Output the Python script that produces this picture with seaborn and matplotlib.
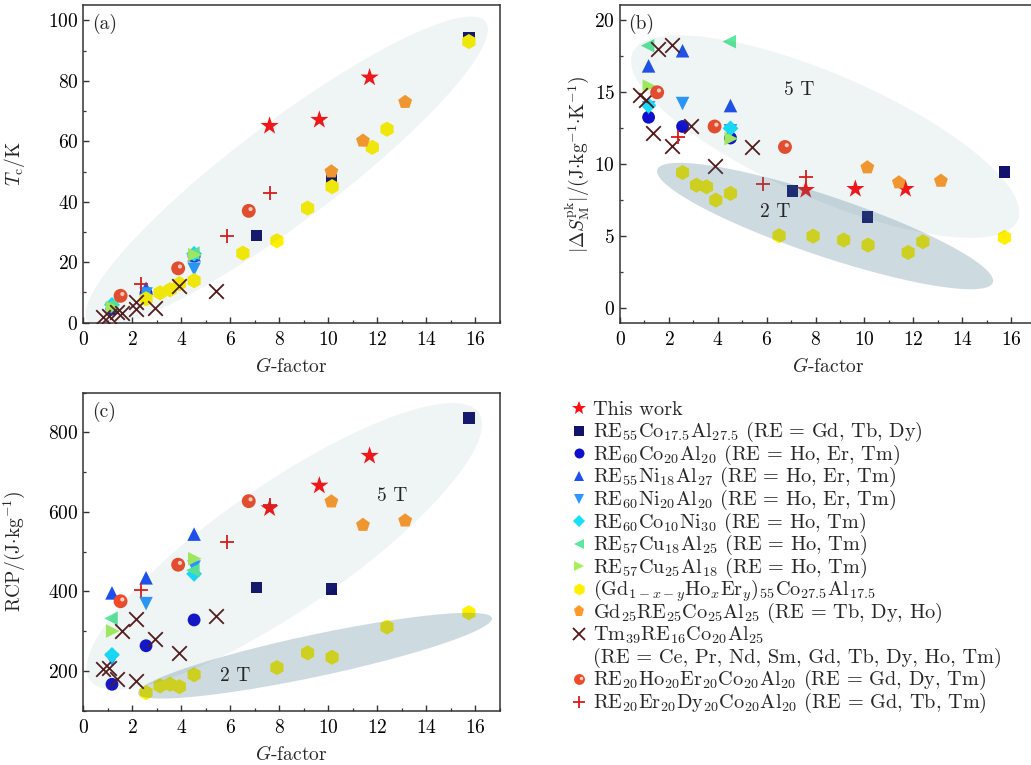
import numpy as np
import matplotlib
matplotlib.use("Agg")
import matplotlib.pyplot as plt
import seaborn as sns
from matplotlib.ticker import MultipleLocator
from matplotlib.transforms import ScaledTranslation

# --- DATA ---
# G-factor plus Tc (K), |dS_M^pk| (J/kg/K) and RCP (J/kg) for every alloy family
star_g = [7.60, 9.63, 11.68]
star_tc = [65.1, 67.1, 81.1]
star_ds = [8.20, 8.27, 8.27]
star_rcp = [609, 666, 741]

square_g = [7.06, 10.12, 15.73]
square_tc = [28.9, 47.2, 94.2]
square_ds = [8.12, 6.34, 9.46]
square_rcp = [410, 406, 836]

circle_g = [1.17, 2.56, 4.52]
circle_tc = [4.5, 9.8, 22.0]
circle_ds = [13.24, 12.60, 11.80]
circle_rcp = [166, 263, 328]

tri_up_g = [1.17, 2.56, 4.52]
tri_up_tc = [5.5, 11.4, 22.5]
tri_up_ds = [16.80, 17.85, 14.05]
tri_up_rcp = [396, 434, 544]

tri_down_g = [1.17, 2.56, 4.52]
tri_down_tc = [4.5, 9.5, 17.7]
tri_down_ds = [13.90, 14.19, 12.30]
tri_down_rcp = [228, 369, 461]

diamond_g = [1.17, 4.52]
diamond_tc = [5.9, 22.8]
diamond_ds = [14.06, 12.47]
diamond_rcp = [240, 444]

tri_left_g = [1.13, 4.47]
tri_left_tc = [6.0, 23.0]
tri_left_ds = [18.20, 18.48]
tri_left_rcp = [332, 453]

tri_right_g = [1.20, 4.55]
tri_right_tc = [5.0, 22.5]
tri_right_ds = [15.40, 11.76]
tri_right_rcp = [300, 482]

hex_g = [2.56, 3.13, 3.54, 3.92, 4.52, 6.51, 7.90, 9.15, 10.15, 11.79, 12.39, 15.73]
hex_tc = [7.9, 9.9, 10.9, 12.9, 13.9, 23.0, 27.1, 37.9, 45.0, 58.0, 64.0, 93.0]
hex_ds = [9.41, 8.53, 8.42, 7.50, 7.96, 5.03, 5.00, 4.73, 4.38, 3.87, 4.61, 4.91]
hex_rcp = [145, 162, 166, 160, 190, np.nan, 208, 245, 234, np.nan, 310, 346]

penta_g = [10.12, 11.41, 13.13]
penta_tc = [50.0, 60.2, 73.0]
penta_ds = [9.76, 8.72, 8.83]
penta_rcp = [626, 567, 578]

cross_g = [0.82, 1.05, 1.36, 1.57, 2.13, 2.13, 2.91, 3.90, 5.41]
cross_tc = [1.8, 2.3, 3.6, 3.2, 6.8, 4.5, 4.8, 12.3, 10.4]
cross_ds = [14.76, 14.46, 12.15, 18.00, 18.22, 11.23, 12.60, 9.87, 11.18]
cross_rcp = [204, 208, 179, 299, 331, 175, 280, 245, 337]

ball_g = [1.52, 3.87, 6.75]
ball_tc = [8.9, 18.0, 37.0]
ball_ds = [14.97, 12.60, 11.18]
ball_rcp = [375, 467, 627]

plus_g = [2.36, 5.86, 7.63]
plus_tc = [12.9, 28.8, 43.0]
plus_ds = [11.88, 8.58, 9.11]
plus_rcp = [404, 524, 617]

LABELS = [
    "This work",
    r"RE$_{55}$Co$_{17.5}$Al$_{27.5}$ (RE = Gd, Tb, Dy)",
    r"RE$_{60}$Co$_{20}$Al$_{20}$ (RE = Ho, Er, Tm)",
    r"RE$_{55}$Ni$_{18}$Al$_{27}$ (RE = Ho, Er, Tm)",
    r"RE$_{60}$Ni$_{20}$Al$_{20}$ (RE = Ho, Er, Tm)",
    r"RE$_{60}$Co$_{10}$Ni$_{30}$ (RE = Ho, Tm)",
    r"RE$_{57}$Cu$_{18}$Al$_{25}$ (RE = Ho, Tm)",
    r"RE$_{57}$Cu$_{25}$Al$_{18}$ (RE = Ho, Tm)",
    r"(Gd$_{1-x-y}$Ho$_x$Er$_y$)$_{55}$Co$_{27.5}$Al$_{17.5}$",
    r"Gd$_{25}$RE$_{25}$Co$_{25}$Al$_{25}$ (RE = Tb, Dy, Ho)",
    ["Tm$_{39}$RE$_{16}$Co$_{20}$Al$_{25}$", "(RE = Ce, Pr, Nd, Sm, Gd, Tb, Dy, Ho, Tm)"],
    r"RE$_{20}$Ho$_{20}$Er$_{20}$Co$_{20}$Al$_{20}$ (RE = Gd, Dy, Tm)",
    r"RE$_{20}$Er$_{20}$Dy$_{20}$Co$_{20}$Al$_{20}$ (RE = Gd, Tb, Tm)",
]

# --- STYLE ---
SERIES = [
    dict(g=star_g, tc=star_tc, ds=star_ds, rcp=star_rcp, marker="*", color="#ff1010", s=190),
    dict(g=square_g, tc=square_tc, ds=square_ds, rcp=square_rcp, marker="s", color="#13136b", s=70),
    dict(g=circle_g, tc=circle_tc, ds=circle_ds, rcp=circle_rcp, marker="o", color="#1010cc", s=85),
    dict(g=tri_up_g, tc=tri_up_tc, ds=tri_up_ds, rcp=tri_up_rcp, marker="^", color="#1d4ff0", s=95),
    dict(g=tri_down_g, tc=tri_down_tc, ds=tri_down_ds, rcp=tri_down_rcp, marker="v", color="#2a98ff", s=95),
    dict(g=diamond_g, tc=diamond_tc, ds=diamond_ds, rcp=diamond_rcp, marker="D", color="#16e0ff", s=65),
    dict(g=tri_left_g, tc=tri_left_tc, ds=tri_left_ds, rcp=tri_left_rcp, marker="<", color="#5ce89a", s=95),
    dict(g=tri_right_g, tc=tri_right_tc, ds=tri_right_ds, rcp=tri_right_rcp, marker=">", color="#a6f05a", s=95),
    dict(g=hex_g, tc=hex_tc, ds=hex_ds, rcp=hex_rcp, marker="h", color="#fff000", s=120),
    dict(g=penta_g, tc=penta_tc, ds=penta_ds, rcp=penta_rcp, marker="p", color="#ff9a2a", s=110),
    dict(g=cross_g, tc=cross_tc, ds=cross_ds, rcp=cross_rcp, marker="x", color="#541818", s=110),
    dict(g=ball_g, tc=ball_tc, ds=ball_ds, rcp=ball_rcp, marker="o", color="#f24a28", s=100),
    dict(g=plus_g, tc=plus_tc, ds=plus_ds, rcp=plus_rcp, marker="+", color="#e01818", s=110),
]

ELL_COLOR = "#3b7387"
BALL_SHINE = "#ffd2c4"

sns.set_style("ticks")
plt.rcParams.update({
    "font.family": "serif",
    "font.serif": ["cmr10", "DejaVu Serif"],
    "mathtext.fontset": "cm",
    "axes.formatter.use_mathtext": True,
    "axes.unicode_minus": False,
    "font.size": 14,
    "axes.edgecolor": "#333333",
    "axes.linewidth": 1.1,
    "xtick.direction": "in",
    "ytick.direction": "in",
    "xtick.major.size": 4,
    "ytick.major.size": 4,
    "xtick.minor.size": 2.5,
    "ytick.minor.size": 2.5,
    "xtick.major.width": 1.0,
    "ytick.major.width": 1.0,
    "xtick.minor.width": 0.9,
    "ytick.minor.width": 0.9,
    "xtick.color": "#333333",
    "ytick.color": "#333333",
    "xtick.labelcolor": "black",
    "ytick.labelcolor": "black",
    "xtick.labelsize": 14,
    "ytick.labelsize": 14,
    "xtick.major.pad": 6,
    "ytick.major.pad": 3.5,
})

W, H = 1031, 765


def add_ellipse(ax, cx, cy, a_px, b_px, angle, alpha):
    # ellipse given in screen pixels (centre in data units), drawn over the points
    bbox = ax.get_window_extent()
    x0, x1 = ax.get_xlim()
    y0, y1 = ax.get_ylim()
    sx = bbox.width / (x1 - x0)
    sy = bbox.height / (y1 - y0)
    t = np.linspace(0, 2 * np.pi, 300)
    u = a_px * np.cos(t)
    v = b_px * np.sin(t)
    th = np.deg2rad(angle)
    px = u * np.cos(th) - v * np.sin(th)
    py = u * np.sin(th) + v * np.cos(th)
    ax.fill(cx + px / sx, cy + py / sy, color=ELL_COLOR, alpha=alpha, lw=0, zorder=5)


def draw_points(ax, key):
    fig = ax.figure
    for s in SERIES:
        kw = dict(marker=s["marker"], color=s["color"], s=s["s"], ax=ax, zorder=3, legend=False)
        if s["marker"] in ("x", "+"):
            kw["linewidth"] = 1.3
        else:
            kw["edgecolor"] = "none"
        sns.scatterplot(x=s["g"], y=s[key], **kw)
    # little highlight on the "ball" markers
    ball = SERIES[11]
    shift = ScaledTranslation(1.3 / 72, 1.3 / 72, fig.dpi_scale_trans)
    sns.scatterplot(x=ball["g"], y=ball[key], marker="o", color=BALL_SHINE, s=9,
                    edgecolor="none", ax=ax, zorder=4, legend=False,
                    transform=ax.transData + shift)


def style_axis(ax, ylim, ymaj, ymin, ylabel, ylab_x, tag):
    ax.set_xlim(0, 17)
    ax.set_ylim(*ylim)
    ax.xaxis.set_major_locator(MultipleLocator(2))
    ax.xaxis.set_minor_locator(MultipleLocator(1))
    ax.yaxis.set_major_locator(MultipleLocator(ymaj))
    ax.yaxis.set_minor_locator(MultipleLocator(ymin))
    ax.tick_params(which="both", top=False, right=False)
    ax.set_xlabel(r"$G$-factor")
    ax.set_ylabel(ylabel)
    ax.xaxis.set_label_coords(0.5, -0.108)
    ax.yaxis.set_label_coords(ylab_x, 0.5)
    ax.text(0.02, 0.94, tag, transform=ax.transAxes, ha="left", va="center", zorder=6)


fig = plt.figure(figsize=(W / 100, H / 100), dpi=100)
ax_a = fig.add_axes([83.3 / W, 1 - 322.7 / H, 416.7 / W, 317.4 / H])
ax_b = fig.add_axes([620 / W, 1 - 322.7 / H, 415.5 / W, 317.4 / H])
ax_c = fig.add_axes([83.3 / W, 1 - 710.5 / H, 416.7 / W, 317.8 / H])

# (a) Curie temperature
draw_points(ax_a, "tc")
style_axis(ax_a, (0, 105), 20, 10, r"$T_{\rm c}/{\rm K}$", -0.135, "(a)")
add_ellipse(ax_a, 8.3, 50.0, 249, 50, 37.0, 0.08)

# (b) magnetic entropy change
draw_points(ax_b, "ds")
style_axis(ax_b, (-1, 21), 5, 2.5,
           r"$|\Delta S_{\rm M}^{\rm pk}|/({\rm J{\cdot}kg^{-1}{\cdot}K^{-1}})$", -0.07, "(b)")
add_ellipse(ax_b, 8.39, 11.9, 210, 62, -23.5, 0.08)
add_ellipse(ax_b, 8.39, 5.7, 177, 30, -18.6, 0.25)
ax_b.text(7.35, 15.1, "5 T", ha="center", va="center", zorder=6)
ax_b.text(6.35, 6.65, "2 T", ha="center", va="center", zorder=6)

# (c) refrigerant capacity
draw_points(ax_c, "rcp")
style_axis(ax_c, (100, 900), 200, 100, r"RCP/(J$\cdot$kg$^{-1}$)", -0.135, "(c)")
add_ellipse(ax_c, 8.2, 513, 236, 63, 34.5, 0.08)
add_ellipse(ax_c, 9.45, 238, 181, 21, 12.0, 0.25)
ax_c.text(12.6, 640, "5 T", ha="center", va="center", zorder=6)
ax_c.text(6.2, 186, "2 T", ha="center", va="center", zorder=6)

# legend, laid out by hand in pixel units in the empty bottom-right slot
ax_leg = fig.add_axes([0, 0, 1, 1])
ax_leg.set_xlim(0, W)
ax_leg.set_ylim(H, 0)
ax_leg.set_axis_off()
mark_x, text_x, y0, step = 579, 593, 408.3, 22.56
line = 0
for i, (s, lab) in enumerate(zip(SERIES, LABELS)):
    y = y0 + step * line
    ms = np.sqrt(s["s"]) * 0.78
    ew = 1.3 if s["marker"] in ("x", "+") else 0
    ax_leg.plot([mark_x], [y], linestyle="none", marker=s["marker"], color=s["color"],
                markersize=ms, markeredgewidth=ew)
    if i == 11:
        ax_leg.plot([mark_x + 1.5], [y - 1.5], linestyle="none", marker="o",
                    color=BALL_SHINE, markersize=2.5, markeredgewidth=0)
    parts = lab if isinstance(lab, list) else [lab]
    for part in parts:
        ax_leg.text(text_x, y + 6.4, part, ha="left", va="baseline", fontsize=14.6)
        line += 1
        y = y0 + step * line

fig.savefig("out.png", dpi=100)
